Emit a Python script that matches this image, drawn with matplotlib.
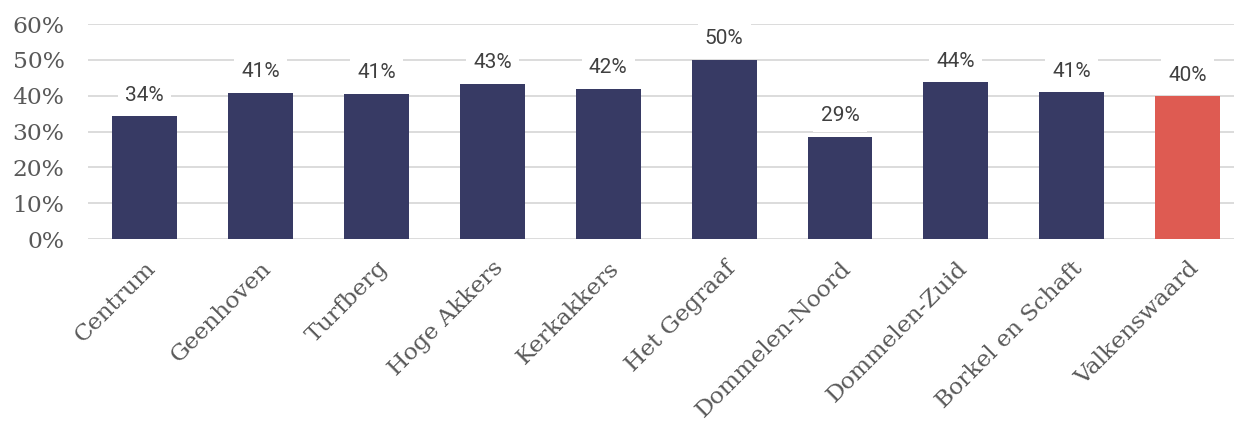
import matplotlib
matplotlib.use("Agg")
import matplotlib.pyplot as plt
from matplotlib.ticker import PercentFormatter

categories = ["Centrum", "Geenhoven", "Turfberg", "Hoge Akkers", "Kerkakkers",
              "Het Gegraaf", "Dommelen-Noord", "Dommelen-Zuid", "Borkel en Schaft", "Valkenswaard"]
values = [34.2, 40.8, 40.6, 43.3, 41.8, 50.0, 28.6, 43.7, 40.9, 39.8]
labels = ["34%", "41%", "41%", "43%", "42%", "50%", "29%", "44%", "41%", "40%"]
colors = ["#373a64"] * 9 + ["#de5b52"]
yticks = [0, 10, 20, 30, 40, 50, 60]

fig = plt.figure(figsize=(12.34, 4.23), dpi=100)
ax = fig.add_axes([88/1234, 1 - 239/423, 1 - 88/1234, (239-24)/423])
x = list(range(len(categories)))
ax.bar(x, values, width=0.56, color=colors, zorder=2)
ax.set_xlim(-0.49, 9.40)
ax.set_ylim(0, 60)
ax.set_yticks(yticks)
ax.yaxis.set_major_formatter(PercentFormatter(decimals=0))
ax.grid(axis="y", color="#d9d9d9", linewidth=1.3, zorder=0)
ax.set_axisbelow(True)
for s in ax.spines.values():
    s.set_visible(False)
ax.tick_params(axis="both", length=0, colors="#595959")
ax.set_xticks(x)
ax.set_xticklabels(categories, rotation=45, ha="right", rotation_mode="anchor",
                   family="DejaVu Serif", fontsize=16.8, color="#595959")
for t in ax.get_yticklabels():
    t.set_family("DejaVu Serif")
    t.set_fontsize(16.8)
    t.set_color("#595959")
ax.tick_params(axis="y", pad=17)
ax.tick_params(axis="x", pad=13)
for xi, v, lab in zip(x, values, labels):
    ax.annotate(lab, (xi, v), xytext=(0, 8.5), textcoords="offset points",
                ha="center", va="bottom", family="Roboto", fontsize=15, color="#404040",
                bbox=dict(boxstyle="square,pad=0.35", fc="white", ec="none"), zorder=3)
fig.savefig("out.png", dpi=100)
